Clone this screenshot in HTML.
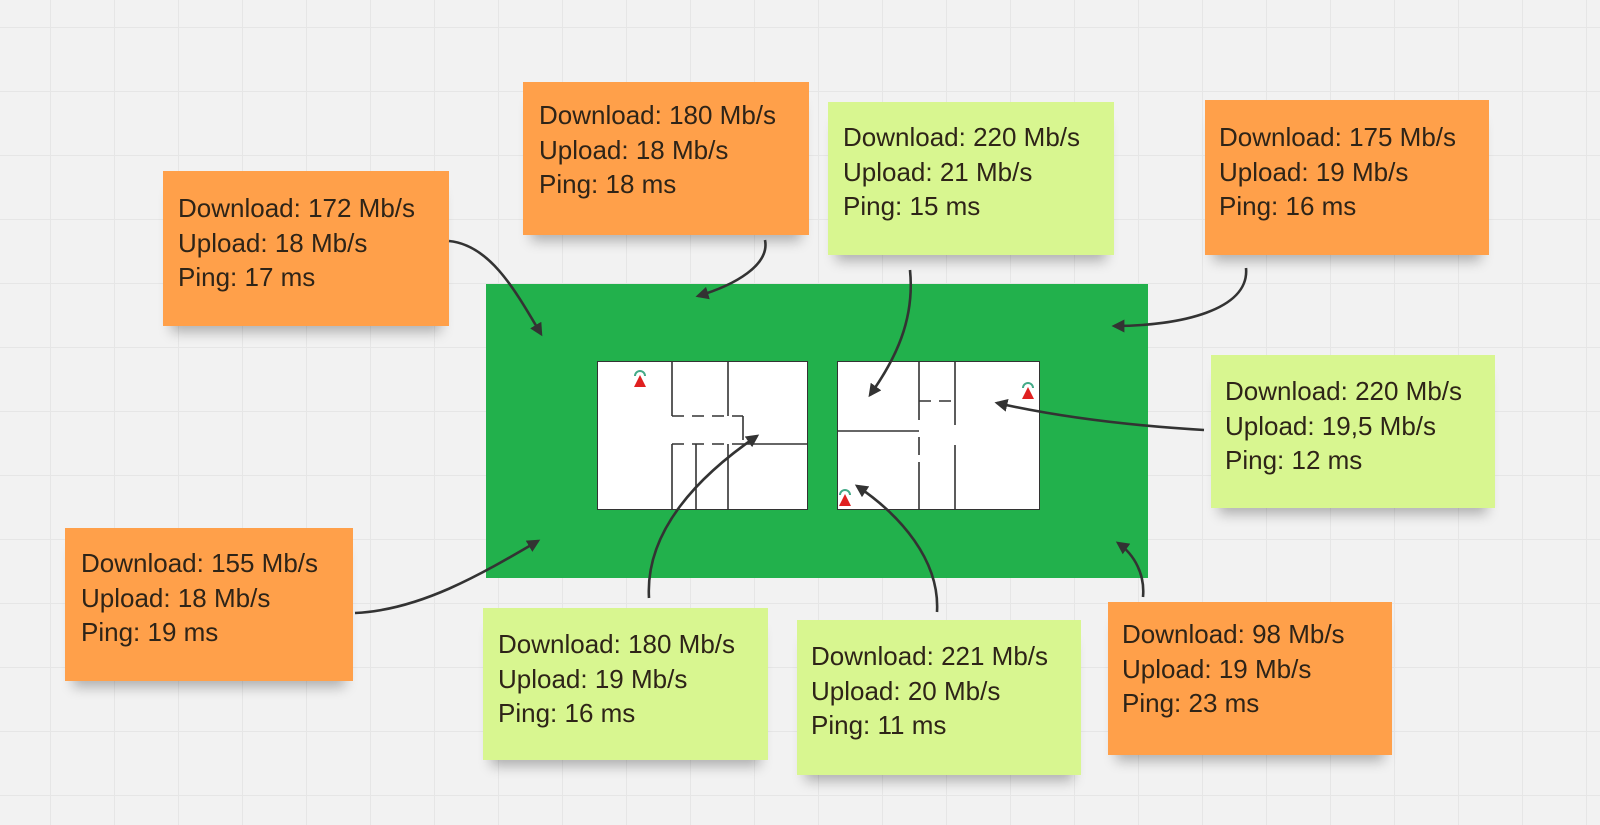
<!DOCTYPE html>
<html><head><meta charset="utf-8"><style>
html,body{margin:0;padding:0}
body{width:1600px;height:825px;position:relative;overflow:hidden;background-color:#f2f2f2;
background-image:linear-gradient(#e6e6e6 1px,transparent 1px),linear-gradient(90deg,#e6e6e6 1px,transparent 1px);
background-size:64px 64px;background-position:50px 27px;font-family:"Liberation Sans",sans-serif}
.s{position:absolute;box-sizing:border-box;font-size:26px;line-height:34.5px;color:#2e2418;box-shadow:0 14px 12px -8px rgba(0,0,0,0.28);white-space:nowrap}
.o{background:#ffa04a}
.g{background:#d8f690}
.s div{position:absolute}
svg{position:absolute;left:0;top:0}
</style></head><body>
<div style="position:absolute;left:486px;top:284px;width:662px;height:294px;background:#22b14c"></div>
<div style="position:absolute;left:597px;top:361px;width:211px;height:149px;background:#fff;border:1px solid #333;box-sizing:border-box"></div>
<div style="position:absolute;left:837px;top:361px;width:203px;height:149px;background:#fff;border:1px solid #333;box-sizing:border-box"></div>

<div class="s o" style="left:163px;top:171px;width:286px;height:155px"><div style="left:15px;top:20px">Download: 172 Mb/s<br>Upload: 18 Mb/s<br>Ping: 17 ms</div></div>
<div class="s o" style="left:523px;top:82px;width:286px;height:153px"><div style="left:16px;top:16px">Download: 180 Mb/s<br>Upload: 18 Mb/s<br>Ping: 18 ms</div></div>
<div class="s g" style="left:828px;top:102px;width:286px;height:153px"><div style="left:15px;top:18px">Download: 220 Mb/s<br>Upload: 21 Mb/s<br>Ping: 15 ms</div></div>
<div class="s o" style="left:1205px;top:100px;width:284px;height:155px"><div style="left:14px;top:20px">Download: 175 Mb/s<br>Upload: 19 Mb/s<br>Ping: 16 ms</div></div>
<div class="s g" style="left:1211px;top:355px;width:284px;height:153px"><div style="left:14px;top:19px">Download: 220 Mb/s<br>Upload: 19,5 Mb/s<br>Ping: 12 ms</div></div>
<div class="s o" style="left:65px;top:528px;width:288px;height:153px"><div style="left:16px;top:18px">Download: 155 Mb/s<br>Upload: 18 Mb/s<br>Ping: 19 ms</div></div>
<div class="s g" style="left:483px;top:608px;width:285px;height:152px"><div style="left:15px;top:19px">Download: 180 Mb/s<br>Upload: 19 Mb/s<br>Ping: 16 ms</div></div>
<div class="s g" style="left:797px;top:620px;width:284px;height:155px"><div style="left:14px;top:19px">Download: 221 Mb/s<br>Upload: 20 Mb/s<br>Ping: 11 ms</div></div>
<div class="s o" style="left:1108px;top:602px;width:284px;height:153px"><div style="left:14px;top:15px">Download: 98 Mb/s<br>Upload: 19 Mb/s<br>Ping: 23 ms</div></div>

<svg width="1600" height="825" viewBox="0 0 1600 825">
<defs><marker id="a" viewBox="0 0 10 10" refX="8" refY="5" markerWidth="5" markerHeight="5" orient="auto"><path d="M0,0 L10,5 L0,10 z" fill="#333"/></marker></defs>
<g stroke="#333" stroke-width="1.6" fill="none">
<line x1="672" y1="361" x2="672" y2="416"/><line x1="728" y1="361" x2="728" y2="416"/>
<line x1="672" y1="416" x2="743" y2="416" stroke-dasharray="12,8"/><line x1="743" y1="416" x2="743" y2="440"/>
<line x1="672" y1="444" x2="743" y2="444" stroke-dasharray="12,8"/><line x1="743" y1="444" x2="808" y2="444"/>
<line x1="672" y1="444" x2="672" y2="510"/><line x1="696" y1="444" x2="696" y2="510"/><line x1="728" y1="444" x2="728" y2="510"/>
<line x1="919" y1="361" x2="919" y2="420"/><line x1="919" y1="437" x2="919" y2="455"/><line x1="919" y1="462" x2="919" y2="510"/>
<line x1="955" y1="361" x2="955" y2="425"/><line x1="955" y1="445" x2="955" y2="510"/>
<line x1="837" y1="431" x2="919" y2="431"/>
<line x1="919" y1="401" x2="955" y2="401" stroke-dasharray="12,8"/>
</g>
<g>
<polygon points="640,375 634,387 646,387" fill="#e02020"/><path d="M635,376 a5,5 0 0 1 10,0" stroke="#4a8" stroke-width="2" fill="none"/>
<polygon points="1028,387 1022,399 1034,399" fill="#e02020"/><path d="M1023,388 a5,5 0 0 1 10,0" stroke="#4a8" stroke-width="2" fill="none"/>
<polygon points="845,494 839,506 851,506" fill="#e02020"/><path d="M840,495 a5,5 0 0 1 10,0" stroke="#4a8" stroke-width="2" fill="none"/>
</g>
<g stroke="#333" stroke-width="2.6" fill="none" marker-end="url(#a)">
<path d="M449,241 C490,245 515,290 541,334"/>
<path d="M765,240 C770,265 735,285 698,296"/>
<path d="M910,270 C915,320 895,360 870,395"/>
<path d="M1246,268 C1250,310 1180,326 1114,326"/>
<path d="M1204,430 C1120,425 1050,415 997,403"/>
<path d="M355,613 C420,610 480,575 538,541"/>
<path d="M649,598 C645,530 700,475 757,436"/>
<path d="M937,612 C940,560 900,515 857,486"/>
<path d="M1143,597 C1145,575 1135,555 1118,543"/>
</g>
</svg>
</body></html>
